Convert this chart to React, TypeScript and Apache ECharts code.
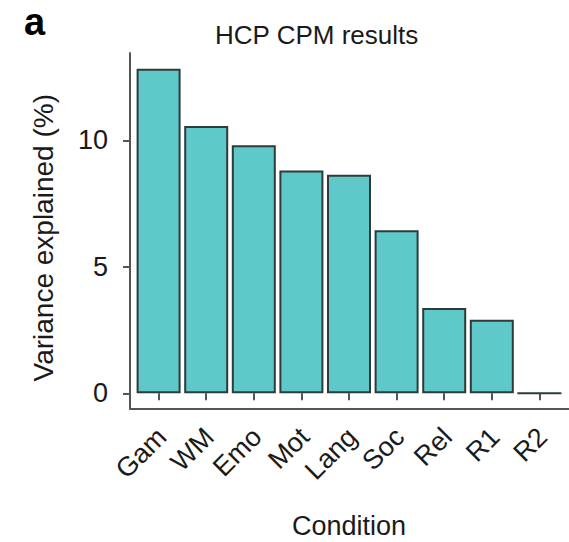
import React, { useEffect, useRef } from "react";
import * as echarts from "echarts";

const categories = ["Gam", "WM", "Emo", "Mot", "Lang", "Soc", "Rel", "R1", "R2"];
const varianceExplained = [12.83, 10.57, 9.8, 8.81, 8.64, 6.44, 3.37, 2.91, 0];
const yTicks = [0, 5, 10];

const FONT = "Liberation Sans";
const TEXT = "#1a1a1a";
const AXIS = "#555555";

export default function App() {
  const ref = useRef<HTMLDivElement>(null);
  useEffect(() => {
    if (!ref.current) return;
    const chart = echarts.init(ref.current, null, { renderer: "svg" });
    chart.setOption({
      animation: false,
      backgroundColor: "#ffffff",
      textStyle: { fontFamily: FONT },
      title: [
        {
          text: "a",
          left: 19,
          top: -2,
          textStyle: { fontFamily: FONT, fontSize: 38, fontWeight: "bold", color: "#000" },
        },
        {
          text: "HCP CPM results",
          left: 210,
          top: 17,
          textStyle: { fontFamily: FONT, fontSize: 26, fontWeight: "normal", color: TEXT },
        },
      ],
      grid: [
        { left: 130, right: 0, top: 53, bottom: 133.5, containLabel: false, outerBoundsMode: "none" },
        { left: 134.8, right: 5.8, top: 13.8, bottom: 148.7, containLabel: false, outerBoundsMode: "none" },
      ],
      xAxis: [
        {
          gridIndex: 0,
          type: "value",
          min: 0,
          max: 1,
          axisLine: { show: true, lineStyle: { color: AXIS, width: 2 } },
          axisTick: { show: false },
          axisLabel: { show: false },
          splitLine: { show: false },
        },
        {
          gridIndex: 1,
          type: "category",
          data: categories,
          offset: 15.2,
          axisLine: { show: false },
          axisTick: { show: true, alignWithLabel: true, length: 7, lineStyle: { color: AXIS, width: 2 } },
          axisLabel: {
            rotate: 45,
            margin: 8,
            fontSize: 27,
            color: TEXT,
            fontFamily: FONT,
            interval: 0,
            verticalAlign: "top",
            padding: [0, 9, 0, 0],
          },
          name: "Condition",
          nameLocation: "middle",
          nameGap: 104,
          nameTextStyle: { fontSize: 27, lineHeight: 27, color: TEXT, fontFamily: FONT },
        },
      ],
      yAxis: [
        {
          gridIndex: 0,
          type: "value",
          min: 0,
          max: 1,
          axisLine: { show: true, lineStyle: { color: AXIS, width: 2 } },
          axisTick: { show: false },
          axisLabel: { show: false },
          splitLine: { show: false },
          name: "Variance explained (%)",
          nameLocation: "middle",
          nameGap: 73,
          nameTextStyle: { fontSize: 28, color: TEXT, fontFamily: FONT, padding: [0, 14, 0, 0] },
        },
        {
          gridIndex: 1,
          type: "value",
          min: 0,
          max: 15,
          offset: 4.8,
          axisLine: { show: false },
          axisTick: { show: true, length: 7, customValues: yTicks, lineStyle: { color: AXIS, width: 2 } },
          axisLabel: { margin: 22, fontSize: 27, color: TEXT, fontFamily: FONT, customValues: yTicks },
          splitLine: { show: false },
        },
      ],
      series: [
        {
          type: "bar",
          xAxisIndex: 1,
          yAxisIndex: 1,
          data: varianceExplained,
          barWidth: 44,
          itemStyle: { color: "#5fc9c9", borderColor: "#2e3b3b", borderWidth: 2 },
        },
      ],
    });
    return () => chart.dispose();
  }, []);
  return <div ref={ref} style={{ position: "fixed", left: 0, top: 0, width: 569, height: 542 }} />;
}
